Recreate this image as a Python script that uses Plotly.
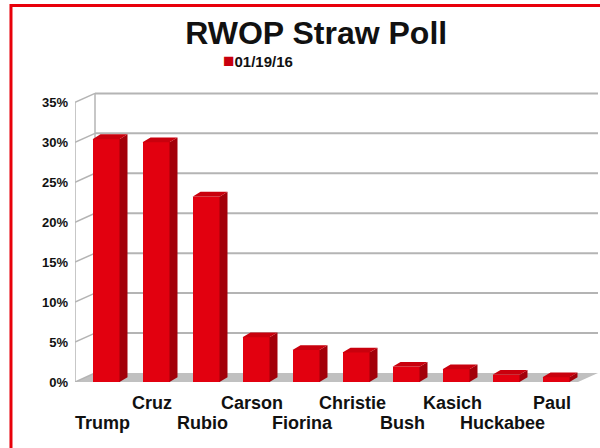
import plotly.graph_objects as go

# ---- data ----
candidates = ["Trump", "Cruz", "Rubio", "Carson", "Fiorina", "Christie",
              "Bush", "Kasich", "Huckabee", "Paul"]
values = [30.4, 30.0, 23.2, 5.6, 4.0, 3.7, 1.9, 1.6, 0.9, 0.6]
y_ticks = [0, 5, 10, 15, 20, 25, 30, 35]
series_name = "01/19/16"
title_text = "RWOP Straw Poll"

# ---- styling / geometry ----
FRONT = "#e2000f"
SIDE = "#a3000a"
TOP = "#c9000d"
GRID = "#b4b4b4"
FLOOR = "#c0c0c0"
FONT = "Liberation Sans"

x_pos = list(range(len(candidates)))
half_w = 0.27
bar_dx, bar_dy = 0.16, 0.6          # bar depth
wall_dx, wall_dy = 0.40, 1.125      # wall depth
x_left = -0.62
x_right = 9.84
x_front_right = 9.44
y_max = 36.3

fig = go.Figure()

# front faces
fig.add_trace(go.Bar(x=x_pos, y=values, width=2 * half_w, name=series_name,
                     marker=dict(color=FRONT, line=dict(width=0)),
                     showlegend=False, hoverinfo="skip"))

# side and top faces
side_x, side_y, top_x, top_y = [], [], [], []
for xc, v in zip(x_pos, values):
    r = xc + half_w
    l = xc - half_w
    side_x += [r, r + bar_dx, r + bar_dx, r, r, None]
    side_y += [0, bar_dy, v + bar_dy, v, 0, None]
    top_x += [l, r, r + bar_dx, l + bar_dx, l, None]
    top_y += [v, v, v + bar_dy, v + bar_dy, v, None]
fig.add_trace(go.Scatter(x=side_x, y=side_y, fill="toself", fillcolor=SIDE, mode="lines",
                         line=dict(width=0, color=SIDE), showlegend=False, hoverinfo="skip"))
fig.add_trace(go.Scatter(x=top_x, y=top_y, fill="toself", fillcolor=TOP, mode="lines",
                         line=dict(width=0, color=TOP), showlegend=False, hoverinfo="skip"))

shapes = []
# floor
shapes.append(dict(type="path", layer="below", xref="x", yref="y",
                   path=f"M {x_left},0 L {x_front_right},0 L {x_right},{wall_dy} L {x_left + wall_dx},{wall_dy} Z",
                   fillcolor=FLOOR, line=dict(width=0)))
# back wall grid lines and left wall connectors
for t in y_ticks:
    if t > 0:
        shapes.append(dict(type="line", layer="below", xref="x", yref="y",
                           x0=x_left + wall_dx, x1=x_right, y0=t + wall_dy, y1=t + wall_dy,
                           line=dict(color=GRID, width=2)))
    shapes.append(dict(type="line", layer="below", xref="x", yref="y",
                       x0=x_left, x1=x_left + wall_dx, y0=t, y1=t + wall_dy,
                       line=dict(color=GRID, width=1.5)))
# wall verticals
shapes.append(dict(type="line", layer="below", xref="x", yref="y",
                   x0=x_left, x1=x_left, y0=0, y1=y_ticks[-1], line=dict(color=GRID, width=1.5)))
shapes.append(dict(type="line", layer="below", xref="x", yref="y",
                   x0=x_left + wall_dx, x1=x_left + wall_dx, y0=wall_dy, y1=y_ticks[-1] + wall_dy,
                   line=dict(color=GRID, width=1.5)))
# red frame
shapes.append(dict(type="rect", xref="paper", yref="paper", x0=-0.1224, x1=1.2, y0=-1.0, y1=1.298,
                   line=dict(color="#e8000a", width=3), fillcolor="rgba(0,0,0,0)", layer="above"))

annotations = []
for i, (xc, name) in enumerate(zip(x_pos, candidates)):
    annotations.append(dict(x=xc, y=-0.141 if i % 2 == 0 else -0.0723, xref="x", yref="paper",
                            text=name, showarrow=False, xshift=-4, yanchor="middle",
                            font=dict(family=FONT, size=18, color="#111111", weight=700)))
# series key
annotations.append(dict(x=(258 - 75) / 523, y=(382 - 60) / 290.4, xref="paper", yref="paper",
                        text=f"<span style='color:#c8000e;font-size:19px'>■</span>{series_name}",
                        showarrow=False, xanchor="center", yanchor="middle",
                        font=dict(family=FONT, size=15, color="#111111", weight=700)))

fig.update_layout(
    width=600, height=448,
    margin=dict(l=75, r=2, t=92, b=66, autoexpand=False),
    paper_bgcolor="white", plot_bgcolor="white",
    title=dict(text=title_text, x=0.527, xanchor="center", y=1 - 33 / 448, yanchor="middle",
               font=dict(family=FONT, size=32, color="#111111", weight=700)),
    showlegend=False,
    xaxis=dict(range=[x_left, x_right], visible=False, fixedrange=True),
    yaxis=dict(range=[0, y_max], tickvals=y_ticks, ticktext=[f"{t}%" for t in y_ticks],
               showgrid=False, zeroline=False, showline=False, ticks="",
               tickfont=dict(family=FONT, size=13, color="#111111", weight=700),
               ticklabelstandoff=6),
    shapes=shapes,
    annotations=annotations,
    bargap=0,
)

fig.write_html("out.html", config={"displayModeBar": False},
               post_script="document.body.style.margin='0';")
